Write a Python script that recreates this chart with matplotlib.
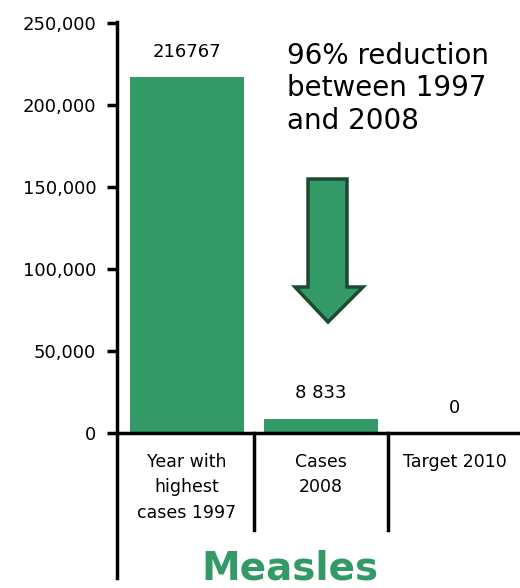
import numpy as np
from matplotlib import pyplot as plt
from matplotlib.patches import Polygon

# data
categories = ['Year with\nhighest\ncases 1997', 'Cases\n2008', 'Target 2010']
cases = [216767, 8833, 0]
value_labels = ['216767', '8 833', '0']
yticks = [0, 50000, 100000, 150000, 200000, 250000]
ytick_labels = ['0', '50,000', '100,000', '150,000', '200,000', '250,000']

GREEN = '#339966'
W, H = 520, 588

fig = plt.figure(figsize=(W / 100, H / 100), dpi=100)


def px(x, y):
    # pixel position -> figure fraction
    return x / W, 1 - y / H


# axes spanning the spine area
l, b = px(117, 578)
r, t = px(520, 22)
ax = fig.add_axes([l, b, r - l, t - b])

x = np.arange(len(categories))
ax.bar(x, cases, width=0.85, color=GREEN)
ax.set_xlim(-0.522, 2.485)
ax.set_ylim(-88400, 250600)

for xi, v, lab in zip(x, cases, value_labels):
    ax.text(xi, v + 10000, lab, ha='center', va='bottom', fontsize=13)

ax.set_yticks(yticks)
ax.set_yticklabels(ytick_labels, fontsize=13)
ax.set_xticks([])
ax.tick_params(axis='y', length=7, width=2.5, pad=8)

for s in ['top', 'right', 'bottom']:
    ax.spines[s].set_visible(False)
ax.spines['left'].set_linewidth(2.5)

# baseline and category separators
ax.plot([-0.522, 2.485], [0, 0], color='black', linewidth=2.5, clip_on=False)
for sx in [0.5, 1.5]:
    ax.plot([sx, sx], [0, -59000], color='black', linewidth=2.5)

for xi, cat in zip(x, categories):
    ax.text(xi, -12000, cat, ha='center', va='top', fontsize=12.5, linespacing=1.55)

# annotation text
fig.text(*px(287, 42), '96% reduction\nbetween 1997\nand 2008',
         ha='left', va='top', fontsize=20, linespacing=1.2)

# block arrow
pts = [(308, 179), (347, 179), (347, 287), (363, 287), (328, 322),
       (295, 287), (308, 287)]
arrow = Polygon([px(a, c) for a, c in pts], closed=True,
                transform=fig.transFigure, facecolor=GREEN,
                edgecolor='#1b4a30', linewidth=2.5)
fig.patches.append(arrow)

fig.text(*px(290, 549), 'Measles', ha='center', va='top', fontsize=28,
         fontweight='bold', color=GREEN)

plt.savefig('out.png', dpi=100)
